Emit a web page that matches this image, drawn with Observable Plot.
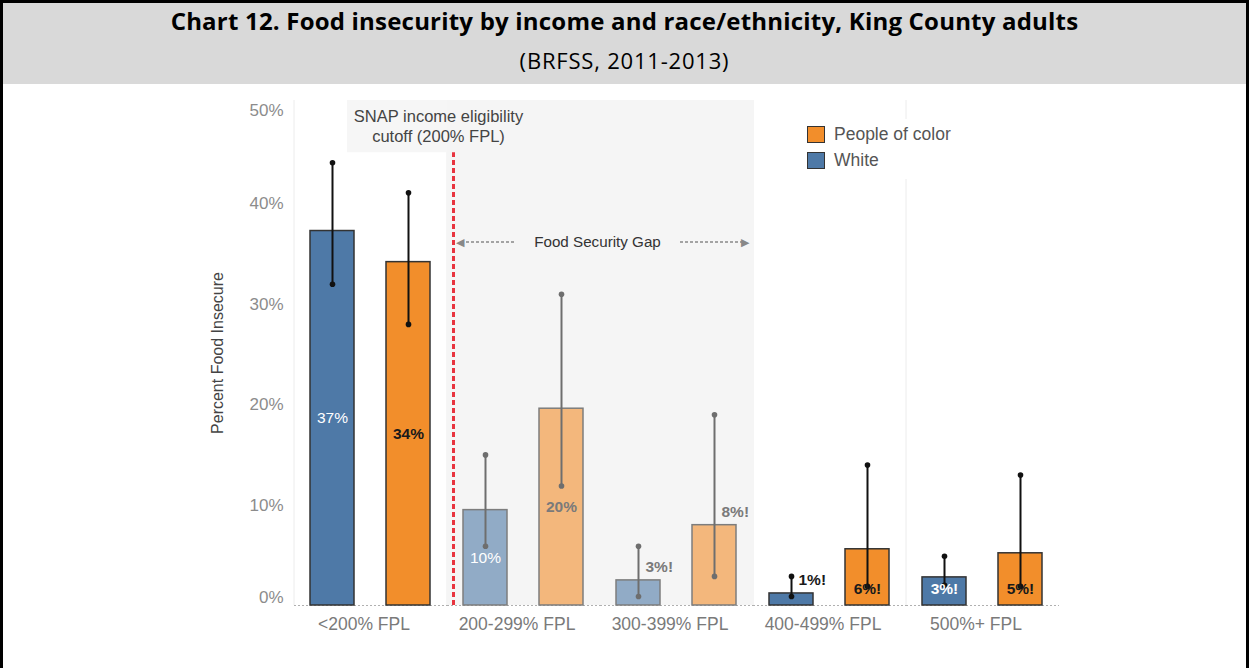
<!DOCTYPE html>
<html>
<head>
<meta charset="utf-8">
<script src="https://cdn.jsdelivr.net/npm/d3@7"></script>
<script src="https://cdn.jsdelivr.net/npm/@observablehq/plot@0.6"></script>
<style>
  html, body { margin: 0; padding: 0; background: #fff; }
  body { width: 1249px; height: 668px; position: relative; overflow: hidden; font-family: "Liberation Sans", Arial, sans-serif; }
  #border { position: absolute; left: 0; top: 0; width: 1243px; height: 700px; border: 3px solid #000; border-bottom: none; }
  #header { position: absolute; left: 3px; top: 3px; width: 1243px; height: 81px; background: #d9d9d9; }
  #title { position: absolute; left: 0; right: 0; top: 1px; text-align: center; font-family: "Open Sans", sans-serif; font-weight: bold; font-size: 24px; letter-spacing: 0.2px; color: #000; white-space: nowrap; }
  #subtitle { position: absolute; left: 0; right: 0; top: 42px; text-align: center; font-family: "Open Sans", sans-serif; font-size: 22px; letter-spacing: 0.8px; color: #000; }
  #chart { position: absolute; left: 0; top: 87px; }
  #legend { position: absolute; left: 797px; top: 119px; padding: 6px 12px 2px 10px; background: #fff; font-size: 17.5px; color: #555; }
  #legend .item { display: flex; align-items: center; height: 18px; margin-bottom: 8px; }
  #legend .sw { display: inline-block; width: 16px; height: 15px; border: 1.5px solid #333; margin-right: 9px; }
</style>
</head>
<body>
<div id="border"></div>
<div id="header">
  <div id="title">Chart 12. Food insecurity by income and race/ethnicity, King County adults</div>
  <div id="subtitle">(BRFSS, 2011-2013)</div>
</div>
<div id="chart"></div>
<div id="legend"></div>
<script>
// ---- data ----
const groups = ["<200% FPL", "200-299% FPL", "300-399% FPL", "400-499% FPL", "500%+ FPL"];
const races = ["White", "People of color"];
const whitePct  = [37.3, 9.5, 2.5, 1.2, 2.8];
const whiteLow  = [32.0, 5.9, 0.9, 0.9, 2.0];
const whiteHigh = [44.1, 15.0, 5.9, 2.9, 4.9];
const pocPct    = [34.2, 19.6, 8.0, 5.6, 5.2];
const pocLow    = [28.0, 11.9, 2.9, 1.9, 1.9];
const pocHigh   = [41.1, 31.0, 19.0, 14.0, 13.0];
const whiteLabels = ["37%", "10%", "3%!", "1%!", "3%!"];
const pocLabels   = ["34%", "20%", "8%!", "6%!", "5%!"];
const whiteLabelPlacement = ["middle", "middle", "outside", "outside", "base"];
const pocLabelPlacement   = ["middle", "middle", "outside", "base", "base"];
const yTicks = [0, 10, 20, 30, 40, 50];
const gapGroups = ["200-299% FPL", "300-399% FPL"];
const legendItems = ["People of color", "White"];

// annotation levels (percent units)
const yMax = 50.3;
const cutoffTop = 45.1;
const gapArrowLevel = 36.2;

const raceColor = {"White": "#4e79a7", "People of color": "#f28e2b"};

const rows = groups.flatMap((g, i) => [
  {group: g, race: "White", value: whitePct[i], low: whiteLow[i], high: whiteHigh[i], label: whiteLabels[i], pos: whiteLabelPlacement[i]},
  {group: g, race: "People of color", value: pocPct[i], low: pocLow[i], high: pocHigh[i], label: pocLabels[i], pos: pocLabelPlacement[i]}
]);
const inGap = d => gapGroups.includes(d.group);
const main = rows.filter(d => !inGap(d));
const gap = rows.filter(inGap);
const labelFill = d => (d.race === "White" && d.pos !== "outside") ? "#ffffff" : inGap(d) ? "#7a7a7a" : "#1a1a1a";

const errMarks = (data, color) => [
  Plot.ruleX(data, {fx: "group", x: "race", y1: "low", y2: "high", stroke: color, strokeWidth: 2}),
  Plot.dot(data, {fx: "group", x: "race", y: "low", r: 2.8, fill: color}),
  Plot.dot(data, {fx: "group", x: "race", y: "high", r: 2.8, fill: color})
];

const yAxisStyle = {tickFormat: d => d + "%", tickSize: 0, tickPadding: 11, fontSize: 17, color: "#8c8c8c", label: null};

const chart = Plot.plot({
  width: 1249,
  height: 581,
  marginTop: 13,
  marginBottom: 63,
  marginLeft: 292,
  marginRight: 188,
  style: {fontFamily: "'Liberation Sans', Arial, sans-serif", background: "transparent", overflow: "visible"},
  fx: {domain: groups, padding: 0, label: null},
  x: {domain: races, paddingInner: 32 / 77, paddingOuter: 16 / 77, axis: null},
  y: {domain: [0, yMax], axis: null},
  color: {type: "identity"},
  marks: [
    // faint group separators
    Plot.ruleX(groups.map(g => ({group: g, race: "White"})), {fx: "group", x: "race", y1: 0, y2: yMax, dx: -38.5, stroke: "#ececec", strokeWidth: 1}),
    // Food security gap shading and label box
    Plot.barY(gapGroups, {fx: d => d, y1: 0, y2: yMax, fill: "#f5f5f5"}),
    Plot.barY([groups[0]], {fx: d => d, y1: cutoffTop, y2: yMax, insetLeft: 53, fill: "#f6f6f6"}),
    // axes (end ticks nudged inward like the original)
    Plot.axisY({...yAxisStyle, ticks: yTicks.slice(1, -1)}),
    Plot.axisY({...yAxisStyle, ticks: yTicks.slice(-1), dy: 7}),
    Plot.axisY({...yAxisStyle, ticks: yTicks.slice(0, 1), dy: -8}),
    Plot.text([groups[0]], {fx: d => d, frameAnchor: "left", textAnchor: "middle", text: () => "Percent Food Insecure", rotate: -90, dx: -77, fontSize: 16, fill: "#444"}),
    Plot.axisFx({anchor: "bottom", tickSize: 0, tickPadding: 12, fontSize: 17.5, color: "#7a7a7a", label: null, dx: -7}),
    Plot.ruleY([0], {stroke: "#b0b0b0", strokeDasharray: "2,2"}),
    // bars
    Plot.barY(main, {fx: "group", x: "race", y: "value", fill: d => raceColor[d.race], stroke: "#333", strokeWidth: 1.5}),
    Plot.barY(gap, {fx: "group", x: "race", y: "value", fill: d => raceColor[d.race], fillOpacity: 0.6, stroke: "#7d7d7d", strokeWidth: 1.5}),
    // error bars
    ...errMarks(main, "#111"),
    ...errMarks(gap, "#6e6e6e"),
    // SNAP cutoff line and label
    Plot.ruleX([{group: gapGroups[0], race: "White"}], {fx: "group", x: "race", y1: 0, y2: cutoffTop, dx: -32, stroke: "#e8343f", strokeWidth: 3, strokeDasharray: "5,3"}),
    Plot.text([groups[0]], {fx: d => d, frameAnchor: "top-right", text: () => "SNAP income eligibility\ncutoff (200% FPL)", textAnchor: "middle", lineAnchor: "top", dx: -9, dy: 8, lineHeight: 1.17, fontSize: 16.5, fill: "#444"}),
    // Food security gap arrow
    Plot.ruleY([{group: gapGroups[0], y: gapArrowLevel}], {fx: "group", y: "y", insetLeft: 14, insetRight: 85, stroke: "#888", strokeWidth: 1.5, strokeDasharray: "3,2"}),
    Plot.ruleY([{group: gapGroups[1], y: gapArrowLevel}], {fx: "group", y: "y", insetLeft: 80, insetRight: 10, stroke: "#888", strokeWidth: 1.5, strokeDasharray: "3,2"}),
    Plot.text([{group: gapGroups[0], y: gapArrowLevel}], {fx: "group", y: "y", frameAnchor: "left", text: () => "◀", textAnchor: "start", dx: 8, fontSize: 11, fill: "#888"}),
    Plot.text([{group: gapGroups[1], y: gapArrowLevel}], {fx: "group", y: "y", frameAnchor: "right", text: () => "▶", textAnchor: "end", dx: -5, fontSize: 11, fill: "#888"}),
    Plot.text([{group: gapGroups[0], y: gapArrowLevel}], {fx: "group", y: "y", frameAnchor: "right", text: () => "Food Security Gap", textAnchor: "middle", dx: -3, fontSize: 15.2, fill: "#333"}),
    // value labels
    Plot.text(rows.filter(d => d.pos === "middle" && d.race === "White"), {fx: "group", x: "race", y: d => d.value / 2, text: "label", fill: labelFill, fontSize: 15.5}),
    Plot.text(rows.filter(d => d.pos === "middle" && d.race !== "White"), {fx: "group", x: "race", y: d => d.value / 2, text: "label", fill: labelFill, fontSize: 15.5, fontWeight: "bold"}),
    Plot.text(rows.filter(d => d.pos === "base"), {fx: "group", x: "race", y: () => 0, dy: -16, text: "label", fill: labelFill, fontSize: 15.5, fontWeight: "bold"}),
    Plot.text(rows.filter(d => d.pos === "outside"), {fx: "group", x: "race", y: "value", dy: -13, dx: 7, textAnchor: "start", text: "label", fill: labelFill, fontSize: 15.5, fontWeight: "bold"})
  ]
});
document.getElementById("chart").appendChild(chart);

// legend
const legend = document.getElementById("legend");
legendItems.forEach(name => {
  const item = document.createElement("div");
  item.className = "item";
  const sw = document.createElement("span");
  sw.className = "sw";
  sw.style.background = raceColor[name];
  item.appendChild(sw);
  item.appendChild(document.createTextNode(name));
  legend.appendChild(item);
});
</script>
</body>
</html>
